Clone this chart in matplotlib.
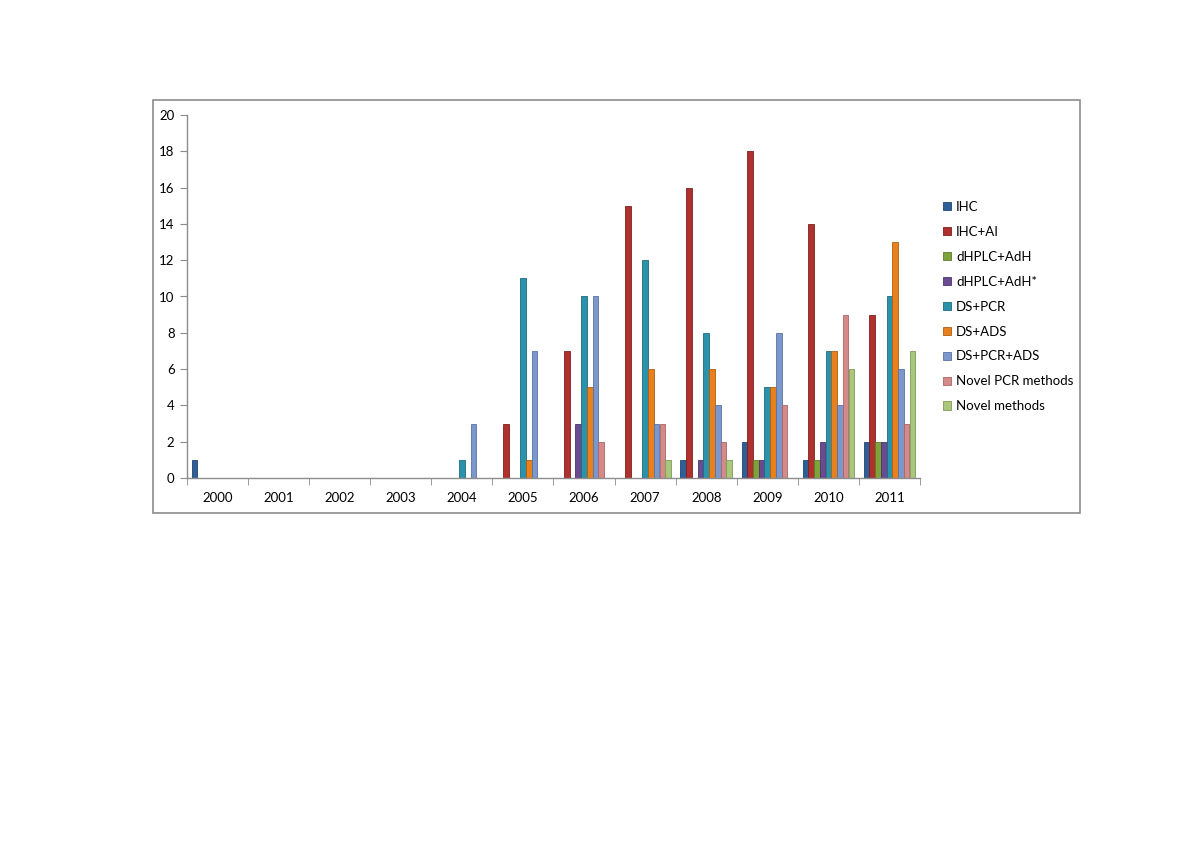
import matplotlib
matplotlib.use("Agg")
import matplotlib.pyplot as plt
import numpy as np
from matplotlib.patches import Rectangle

years = ["2000", "2001", "2002", "2003", "2004", "2005", "2006", "2007", "2008", "2009", "2010", "2011"]
series_names = ["IHC", "IHC+AI", "dHPLC+AdH", "dHPLC+AdH*", "DS+PCR", "DS+ADS",
                "DS+PCR+ADS", "Novel PCR methods", "Novel methods"]

IHC          = [1, 0, 0, 0, 0, 0, 0, 0, 1, 2, 1, 2]
IHC_AI       = [0, 0, 0, 0, 0, 3, 7, 15, 16, 18, 14, 9]
dHPLC_AdH    = [0, 0, 0, 0, 0, 0, 0, 0, 0, 1, 1, 2]
dHPLC_AdH_s  = [0, 0, 0, 0, 0, 0, 3, 0, 1, 1, 2, 2]
DS_PCR       = [0, 0, 0, 0, 1, 11, 10, 12, 8, 5, 7, 10]
DS_ADS       = [0, 0, 0, 0, 0, 1, 5, 6, 6, 5, 7, 13]
DS_PCR_ADS   = [0, 0, 0, 0, 3, 7, 10, 3, 4, 8, 4, 6]
Novel_PCR    = [0, 0, 0, 0, 0, 0, 2, 3, 2, 4, 9, 3]
Novel        = [0, 0, 0, 0, 0, 0, 0, 1, 1, 0, 6, 7]

all_series = [IHC, IHC_AI, dHPLC_AdH, dHPLC_AdH_s, DS_PCR, DS_ADS, DS_PCR_ADS, Novel_PCR, Novel]
colors = ["#2F5F98", "#AE312E", "#7FA33B", "#6A4B92", "#2B92AB", "#E8801E",
          "#7C97CB", "#D48A88", "#A9C77C"]
edges = ["#1F4470", "#7E201E", "#5C7A28", "#4B3369", "#1D6B7E", "#B05F10",
         "#5A73A3", "#A86664", "#7E9B55"]

plt.rcParams['font.family'] = ['Lato', 'DejaVu Sans']

fig = plt.figure(figsize=(12, 8.48), dpi=100)
# chart area border
fig.patches.append(Rectangle((153 / 1200, 1 - 513 / 848), (1080 - 153) / 1200, (513 - 100) / 848,
                             transform=fig.transFigure, fill=False, edgecolor="#8C8C8C",
                             linewidth=1.2, zorder=0))

ax = fig.add_axes([187 / 1200, 1 - 478 / 848, (920 - 187) / 1200, (478 - 115) / 848])
x = np.arange(len(years))
n = len(all_series)
w = 0.094
for i, (vals, name) in enumerate(zip(all_series, series_names)):
    offs = (i - (n - 1) / 2) * w
    ax.bar(x + offs, vals, width=w * 0.98, color=colors[i], edgecolor=edges[i],
           linewidth=0.6, label=name, zorder=2)

ax.set_xlim(-0.5, len(years) - 0.5)
ax.set_ylim(0, 20)
ax.set_yticks(np.arange(0, 21, 2))
ax.set_xticks(x)
ax.set_xticklabels(years)
ax.set_xticks(np.arange(-0.5, len(years), 1), minor=True)
ax.tick_params(axis='x', which='major', length=0, pad=10, labelsize=9.5, colors='black')
ax.tick_params(axis='x', which='minor', length=5, color="#8C8C8C", direction='out')
ax.tick_params(axis='y', length=5, color="#8C8C8C", direction='out', labelsize=9.5, pad=4)
for s in ['top', 'right']:
    ax.spines[s].set_visible(False)
for s in ['left', 'bottom']:
    ax.spines[s].set_color("#8C8C8C")
    ax.spines[s].set_linewidth(1.0)

leg = fig.legend(loc='upper left', bbox_to_anchor=(931 / 1200, 1 - 189 / 848),
                 frameon=False, fontsize=9.5, handlelength=0.6, handleheight=0.6,
                 handletextpad=0.4, labelspacing=0.98)

fig.savefig("out.png", dpi=100)
